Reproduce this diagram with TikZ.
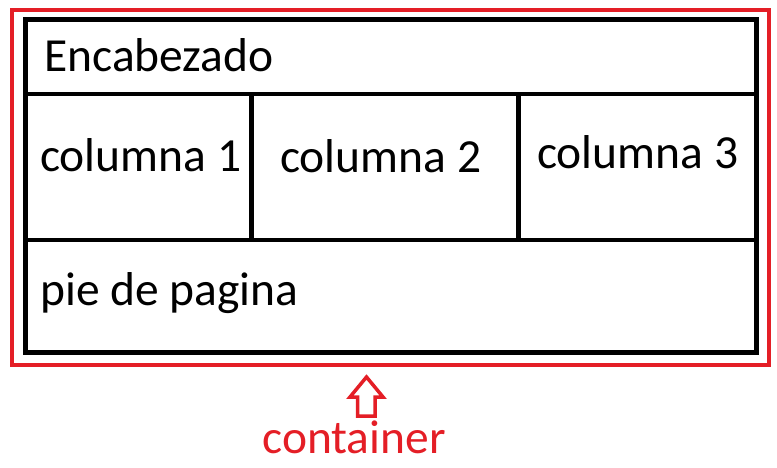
\documentclass[tikz,border=0pt]{standalone}
\usepackage{fontspec}
\setmainfont{Carlito}
\definecolor{boxred}{RGB}{228,30,38}
\tikzset{
  outerbox/.style={draw=boxred, line width=4pt},
  innerbox/.style={draw=black, line width=5pt},
  divider/.style={draw=black, line width=4.5pt},
  celltext/.style={anchor=base west, inner sep=0pt, font=\fontsize{47.5}{57}\selectfont},
  redtext/.style={anchor=base, inner sep=0pt, text=boxred, font=\fontsize{47.5}{57}\selectfont},
  hollowarrow/.style={draw=boxred, line width=3.5pt, line join=miter, fill=white}
}
\begin{document}
\begin{tikzpicture}[x=1pt,y=-1pt]
\useasboundingbox (0,0) rectangle (777,468);
% outer red container
\coordinate (rtl) at (12,10);
\coordinate (rbr) at (768.5,364.5);
\draw[outerbox] (rtl) rectangle (rbr);
% inner black box
\coordinate (btl) at (25.5,19.5);
\coordinate (bbr) at (756.5,352);
\draw[innerbox] (btl) rectangle (bbr);
% horizontal dividers
\coordinate (h1l) at (25.5,94);
\coordinate (h1r) at (756.5,94);
\coordinate (h2l) at (25.5,240);
\coordinate (h2r) at (756.5,240);
\draw[divider] (h1l) -- (h1r);
\draw[divider] (h2l) -- (h2r);
% vertical dividers
\coordinate (v1t) at (251.5,94);
\coordinate (v1b) at (251.5,240);
\coordinate (v2t) at (518.5,94);
\coordinate (v2b) at (518.5,240);
\draw[divider] (v1t) -- (v1b);
\draw[divider] (v2t) -- (v2b);
% texts
\node[celltext] (head) at (44,71.7) {Encabezado};
\node[celltext] (col1) at (40,171.7) {columna 1};
\node[celltext] (col2) at (280,173) {columna 2};
\node[celltext] (col3) at (537,169) {columna 3};
\node[celltext] (foot) at (40,305) {pie de pagina};
\node[redtext] (cont) at (354,453) {container};
% hollow up arrow
\coordinate (atip) at (366.5,377);
\draw[hollowarrow] (atip) -- (383,397) -- (375,397) -- (375,416) -- (357.5,416) -- (357.5,397) -- (350,397) -- cycle;
\end{tikzpicture}
\end{document}
